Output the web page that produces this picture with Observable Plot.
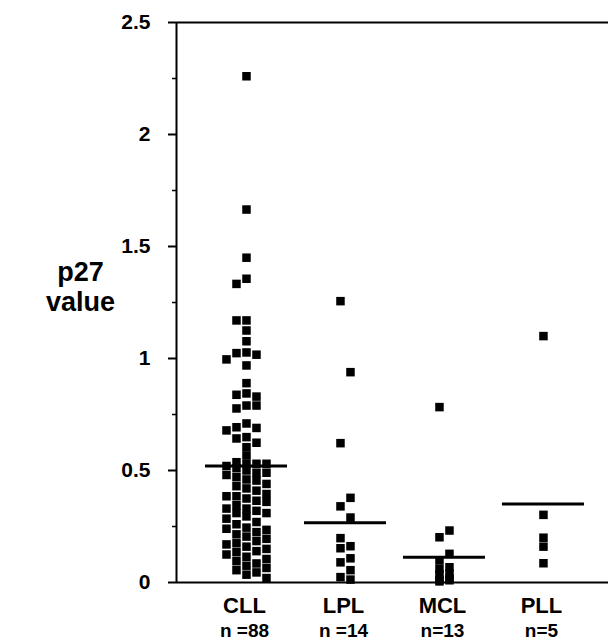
<!DOCTYPE html>
<html><head><meta charset="utf-8">
<script src="https://cdn.jsdelivr.net/npm/d3@7"></script>
<script src="https://cdn.jsdelivr.net/npm/@observablehq/plot@0.6"></script>
<style>body{margin:0;background:#fff} svg{display:block}</style>
</head><body><div id="chart"></div>
<script>
const categories = ["CLL", "LPL", "MCL", "PLL"];
const counts = ["n =88", "n =14", "n=13", "n=5"];
const cllValues = [2.26, 1.665, 1.45, 1.356, 1.333, 1.17, 1.17, 1.125, 1.077, 1.024, 1.017, 1.027, 0.996, 0.969, 0.89,
  0.844, 0.79, 0.838, 0.79, 0.83, 0.777,
  0.71, 0.69, 0.693, 0.649, 0.679, 0.643, 0.624, 0.604, 0.567,
  0.53, 0.537, 0.53, 0.52, 0.53,
  0.51, 0.50, 0.49, 0.49, 0.48, 0.47, 0.46, 0.455, 0.44, 0.43, 0.42, 0.41, 0.395, 0.385, 0.385, 0.375, 0.365, 0.36,
  0.345, 0.33, 0.33, 0.32, 0.31, 0.31, 0.295, 0.285, 0.27, 0.26, 0.245, 0.24, 0.235, 0.225, 0.215, 0.205, 0.195,
  0.185, 0.175, 0.17, 0.16, 0.15, 0.14, 0.135, 0.125, 0.115, 0.105, 0.095, 0.085, 0.075, 0.065, 0.055, 0.045, 0.035, 0.02];
const lplValues = [1.256, 0.939, 0.622, 0.378, 0.34, 0.29, 0.198, 0.162, 0.153, 0.108, 0.09, 0.055, 0.024, 0.013];
const mclValues = [0.783, 0.232, 0.202, 0.128, 0.098, 0.068, 0.06, 0.04, 0.036, 0.02, 0.013, 0.01, 0.005];
const pllValues = [1.1, 0.302, 0.2, 0.16, 0.086];
const meanValues = [0.52, 0.267, 0.113, 0.351];
const yTicks = [0, 0.5, 1, 1.5, 2, 2.5];
const yMinorTicks = [0.25, 0.75, 1.25, 1.75, 2.25];

// layout constants
const W = 608, H = 643, mL = 176, mT = 22, mB = 61;
const xDomain = [-0.707, 3.657];
const yDomain = [0, 2.5];
const columnsPerGroup = [5, 2, 2, 1];
const colStepPx = 10, squarePx = 8;
const pxPerX = (W - mL) / (xDomain[1] - xDomain[0]);
const pxPerY = (H - mT - mB) / (yDomain[1] - yDomain[0]);
const font = "Liberation Sans, Arial, Helvetica, sans-serif";

function layout(values, gi, ncol) {
  const sorted = values.slice().sort((a, b) => b - a);
  const cols = d3.range(ncol).map(j => j - (ncol - 1) / 2);
  const placed = cols.map(() => []);
  let toggle = false;
  const out = [];
  for (const v of sorted) {
    const order = d3.range(ncol).sort((a, b) => {
      const da = Math.abs(cols[a]), db = Math.abs(cols[b]);
      if (da !== db) return da - db;
      return toggle ? cols[b] - cols[a] : cols[a] - cols[b];
    });
    toggle = !toggle;
    let best = null, bestGap = -1;
    for (const j of order) {
      const g = d3.min(placed[j], y => Math.abs(y - v) * pxPerY);
      const gap = g === undefined ? Infinity : g;
      if (gap >= squarePx) { best = j; break; }
      if (gap > bestGap) { bestGap = gap; best = j; }
    }
    placed[best].push(v);
    out.push({group: categories[gi], gi, value: v, x: gi + cols[best] * colStepPx / pxPerX});
  }
  return out;
}

const groups = [cllValues, lplValues, mclValues, pllValues];
const points = groups.flatMap((vals, gi) => layout(vals, gi, columnsPerGroup[gi]));
const means = meanValues.map((v, gi) => ({gi, value: v}));
const halfW = 41 / pxPerX;

const chart = Plot.plot({
  width: W, height: H,
  marginLeft: mL, marginRight: 0, marginTop: mT, marginBottom: mB,
  style: {fontFamily: font, background: "#fff", color: "#000"},
  x: {domain: xDomain, axis: null},
  y: {domain: yDomain, axis: null},
  marks: [
    Plot.axisY({ticks: yTicks, tickSize: 8, tickPadding: 18, tickFormat: d => String(d),
      fontSize: 21, fontWeight: "bold", strokeWidth: 2, label: null}),
    Plot.axisY({ticks: yMinorTicks, tickSize: 4, tickFormat: () => "", strokeWidth: 1.5, label: null}),
    Plot.ruleX([xDomain[0]], {strokeWidth: 2}),
    Plot.ruleY([0], {strokeWidth: 2}),
    Plot.ruleY([2.5], {strokeWidth: 2}),
    Plot.dot(points, {x: "x", y: "value", symbol: "square", r: 4.8, fill: "#000", stroke: "none"}),
    Plot.ruleY(means, {x1: d => d.gi - halfW, x2: d => d.gi + halfW, y: "value", strokeWidth: 3}),
    Plot.text(categories, {x: (d, i) => i, frameAnchor: "bottom", dx: -2, dy: 30, text: d => d,
      fontSize: 22, fontWeight: "bold"}),
    Plot.text(counts, {x: (d, i) => i, frameAnchor: "bottom", dx: -2, dy: 54, text: d => d,
      fontSize: 19, fontWeight: "bold"}),
    Plot.text(["p27\nvalue"], {frameAnchor: "left", dx: -96, dy: -16, text: d => d, textAnchor: "middle",
      fontSize: 27, fontWeight: "bold", lineHeight: 1.1})
  ]
});
document.getElementById("chart").appendChild(chart);
</script>
</body></html>
